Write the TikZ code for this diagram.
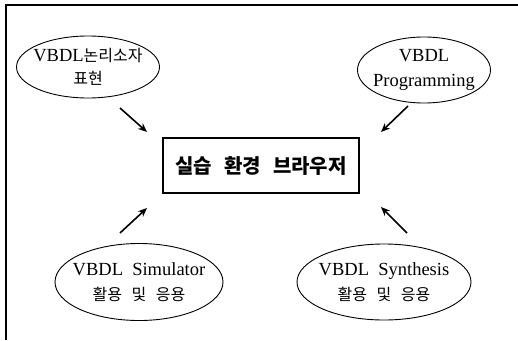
\documentclass[tikz,border=0pt]{standalone}
\usepackage{fontspec}
\setmainfont{Liberation Serif}
\newfontfamily\kr{Noto Sans CJK KR}
\newcommand\krtext[1]{{\kr\fontsize{16}{24}\selectfont #1}}
\usetikzlibrary{arrows.meta}

\begin{document}
\begin{tikzpicture}[x=1pt,y=-1pt,
  label text/.style={inner sep=0pt,align=center,font=\fontsize{18.5}{25}\selectfont},
  oval/.style={line width=0.9pt},
  hub/.style={draw,line width=2pt,inner sep=0pt,font=\kr\bfseries\fontsize{20}{24}\selectfont},
  arr/.style={-{Stealth[length=9pt,width=7.5pt]},line width=1.6pt}]
  \useasboundingbox (0,0) rectangle (518,340);
  % open frame, top and left edge only
  \draw[line width=1.3pt] (518,5) -- (6,5) -- (6,340);

  % ===== nodes =====
  \node[hub,minimum width=196pt,minimum height=55pt] (hub) at (261,165.5) {실습\hspace{.6em}환경\hspace{.6em}브라우저};
  \node[label text] (logic) at (88,67) {VBDL\krtext{논리소자}\\[-2pt]\krtext{표현}};
  \node[label text] (prog) at (424,70) {VBDL\\Programming};
  \node[label text] (sim) at (139,282) {VBDL\ \ Simulator\\\krtext{활용\hspace{.6em}및\hspace{.6em}응용}};
  \node[label text] (syn) at (384,282) {VBDL\ \ Synthesis\\\krtext{활용\hspace{.6em}및\hspace{.6em}응용}};

  % ellipses round the four labels
  \draw[oval] (logic) ellipse [x radius=71.5, y radius=31];
  \draw[oval] (prog) ellipse [x radius=66.5, y radius=33];
  \draw[oval] (sim) ellipse [x radius=84, y radius=38.5];
  \draw[oval] (syn) ellipse [x radius=87, y radius=38];

  % ===== arrow ends =====
  \coordinate (logic-out) at (120,108); \coordinate (logic-in) at (147,132);
  \coordinate (prog-out) at (408,106);  \coordinate (prog-in) at (381,132);
  \coordinate (sim-out) at (120,233);   \coordinate (sim-in) at (147,208);
  \coordinate (syn-out) at (407,233);   \coordinate (syn-in) at (381,207);

  % ===== arrows towards the browser =====
  \draw[arr] (logic-out) -- (logic-in);
  \draw[arr] (prog-out) -- (prog-in);
  \draw[arr] (sim-out) -- (sim-in);
  \draw[arr] (syn-out) -- (syn-in);
\end{tikzpicture}
\end{document}
